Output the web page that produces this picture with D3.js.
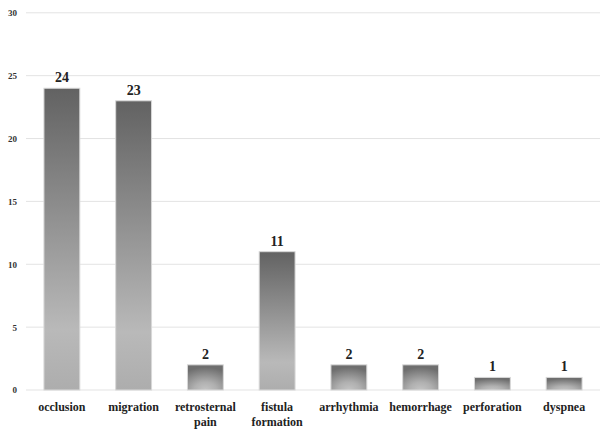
<!DOCTYPE html>
<html><head><meta charset="utf-8">
<script src="https://cdn.jsdelivr.net/npm/d3@7"></script>
<style>body{margin:0;background:#fff} text{font-family:'Liberation Serif','Times New Roman',serif;font-weight:bold}</style>
</head><body>
<svg id="c" width="607" height="434"></svg>
<script>
const categories = [["occlusion"],["migration"],["retrosternal","pain"],["fistula","formation"],["arrhythmia"],["hemorrhage"],["perforation"],["dyspnea"]];
const values = [24,23,2,11,2,2,1,1];
const yTicks = [0,5,10,15,20,25,30];

const svg = d3.select("#c");
const x = d3.scaleBand().domain(d3.range(values.length)).range([26,600]).paddingInner(0.5).paddingOuter(0.25);
const y = d3.scaleLinear().domain([0,30]).range([390,12.8]);

const defs = svg.append("defs");
const lg = defs.append("linearGradient").attr("id","lg").attr("x1",0).attr("y1",0).attr("x2",0).attr("y2",1);
lg.append("stop").attr("offset","0").attr("stop-color","#626262");
lg.append("stop").attr("offset","0.8").attr("stop-color","#b9b9b9");
lg.append("stop").attr("offset","1").attr("stop-color","#adadad");
const rg = defs.append("radialGradient").attr("id","rg").attr("cx",0.5).attr("cy",1).attr("r",0.9).attr("fx",0.5).attr("fy",1);
rg.append("stop").attr("offset","0").attr("stop-color","#c4c4c4");
rg.append("stop").attr("offset","0.35").attr("stop-color","#b0b0b0");
rg.append("stop").attr("offset","1").attr("stop-color","#6e6e6e");

// grid
svg.append("g").selectAll("line").data(yTicks).join("line")
  .attr("x1",26).attr("x2",600).attr("y1",d=>y(d)).attr("y2",d=>y(d))
  .attr("stroke","#e3e3e3").attr("stroke-width",1);

// y axis labels
const yAxis = d3.axisLeft(y).tickValues(yTicks).tickSize(0).tickPadding(0);
const ya = svg.append("g").attr("transform","translate(17,0)").call(yAxis);
ya.select(".domain").remove();
ya.selectAll("text").attr("font-family",null).attr("font-size",9).attr("fill","#333");
ya.attr("font-family",null);

// bars
svg.append("g").selectAll("rect").data(values).join("rect")
  .attr("x",(d,i)=>x(i)).attr("width",x.bandwidth())
  .attr("y",d=>y(d)).attr("height",d=>y(0)-y(d))
  .attr("fill",d=>d<=2?"url(#rg)":"url(#lg)")
  .attr("stroke","#d8d8d8").attr("stroke-width",1);

// value labels
svg.append("g").selectAll("text").data(values).join("text")
  .attr("x",(d,i)=>x(i)+x.bandwidth()/2).attr("y",d=>y(d)-6)
  .attr("text-anchor","middle")
  .attr("font-size",14).attr("fill","#222")
  .text(d=>d);

// x labels
const xl = svg.append("g").selectAll("text").data(categories).join("text")
  .attr("x",(d,i)=>x(i)+x.bandwidth()/2).attr("y",411)
  .attr("text-anchor","middle")
  .attr("font-size",12).attr("fill","#222");
xl.selectAll("tspan").data(d=>d).join("tspan")
  .attr("x",function(){return this.parentNode.getAttribute("x");})
  .attr("dy",(d,i)=>i?15:0).text(d=>d);
</script>
</body></html>
